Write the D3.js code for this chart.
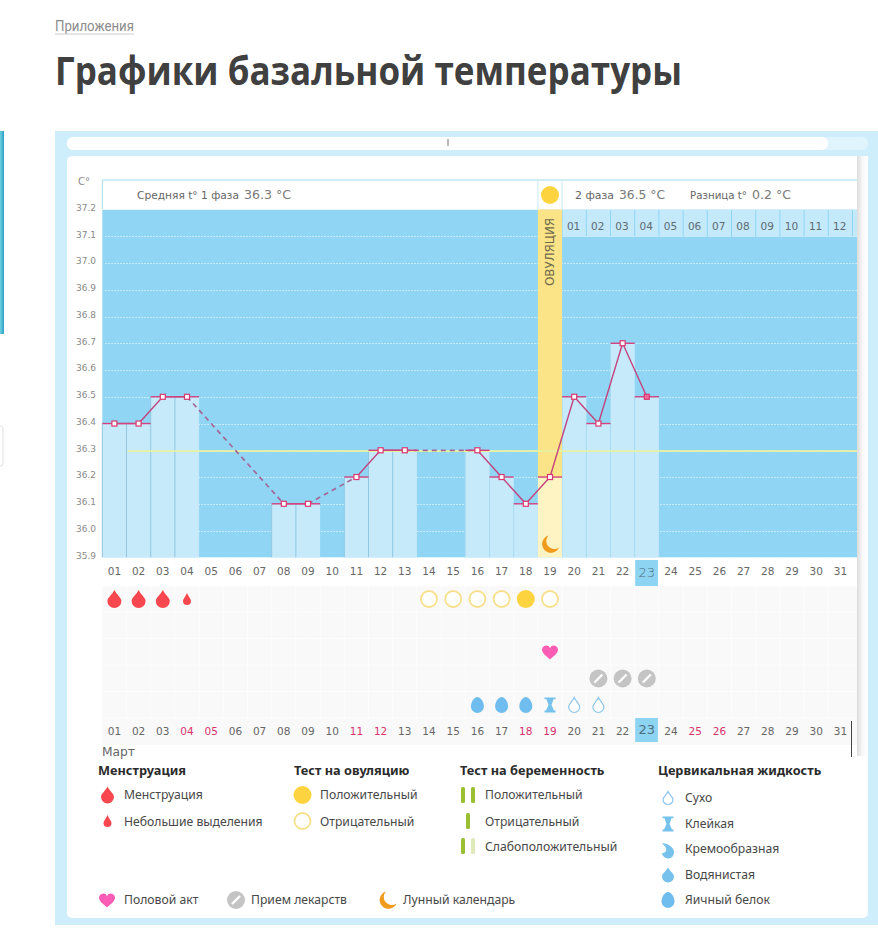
<!doctype html>
<meta charset='utf-8'>
<style>
  body { margin: 0; background: #fff; }
  svg { display: block; }
</style>
<body>
<script src='https://d3js.org/d3.v7.min.js'></script>
<script>

// values
var days = d3.range(1, 32).map(function(d) { return (d < 10 ? '0' : '') + d; });
var tempTicks = [35.9, 36.0, 36.1, 36.2, 36.3, 36.4, 36.5, 36.6, 36.7, 36.8, 36.9, 37.0, 37.1, 37.2];
var tempDays = ['01','02','03','04','08','09','11','12','13','16','17','18','19','20','21','22','23'];
var temps = [36.4,36.4,36.5,36.5,36.1,36.1,36.2,36.3,36.3,36.3,36.2,36.1,36.2,36.5,36.4,36.7,36.5];
var phaseMean = 36.3;
var ovulationDay = '19';
var moonDay = '19';
var today = '23';
var secondPhaseDays = ['01','02','03','04','05','06','07','08','09','10','11','12','13'];
var redDays = ['04','05','11','12','18','19','25','26'];
var bleedBig = ['01','02','03'];
var bleedSmall = ['04'];
var ovuNegative = ['14','15','16','17','19'];
var ovuPositive = ['18'];
var intercourse = ['19'];
var pills = ['21','22','23'];
var fluidEgg = ['16','17','18'];
var fluidSticky = ['19'];
var fluidDry = ['20','21'];

var width = 878, height = 952;

var x = d3.scaleBand().domain(days).range([102.3, 102.3 + 31 * 24.2]);
var y = d3.scaleLinear().domain([35.9, 37.2]).range([557.3, 209.5]);
var cx = function(d) { return x(d) + x.bandwidth() / 2; };

var plotL = 102.3, plotR = 857;
var rows = [599, 625.5, 652, 678.5, 705];
var blue = '#90d6f4', pale = '#c7eafb', pink = '#d8386f';
var sans = "'Noto Sans', sans-serif", veraFont = "'DejaVu Sans', sans-serif";

var svg = d3.select('body').append('svg').attr('width', width).attr('height', height);
var defs = svg.append('defs');

var shade = defs.append('linearGradient').attr('id', 'shade');
shade.append('stop').attr('offset', 0).attr('stop-color', '#dcdcdc');
shade.append('stop').attr('offset', 0.5).attr('stop-color', '#f8f8f8');
shade.append('stop').attr('offset', 1).attr('stop-color', '#fff');
var strip = defs.append('linearGradient').attr('id', 'strip');
strip.append('stop').attr('offset', 0).attr('stop-color', '#6fd0e2');
strip.append('stop').attr('offset', 1).attr('stop-color', '#2f9fc4');

function txt(g, s, px, py, size, color, opts) {
  opts = opts || {};
  var t = g.append('text').attr('x', px).attr('y', py).text(s)
    .attr('font-size', size).attr('fill', color)
    .attr('font-family', opts.font || sans)
    .attr('font-weight', opts.weight || 400)
    .attr('text-anchor', opts.anchor || 'start');
  if (opts.len) t.attr('textLength', opts.len).attr('lengthAdjust', 'spacingAndGlyphs');
  return t;
}

// page heading
txt(svg, 'Приложения', 55, 31, 14, '#8c8c8c', {len: 79, font: "'Roboto', sans-serif"});
svg.append('line').attr('x1', 55).attr('x2', 134).attr('y1', 34).attr('y2', 34).attr('stroke', '#ccc');
txt(svg, 'Графики базальной температуры', 55, 84.5, 39, '#404040', {weight: 700, len: 627, font: "'Open Sans', sans-serif"});

// left edge bits of the page
svg.append('rect').attr('x', 0).attr('y', 131).attr('width', 4).attr('height', 203).attr('fill', 'url(#strip)');
svg.append('rect').attr('x', -6).attr('y', 426).attr('width', 9).attr('height', 40).attr('rx', 3)
  .attr('fill', '#fff').attr('stroke', '#e2e2e2');

// panels
svg.append('rect').attr('x', 55).attr('y', 131).attr('width', 823).attr('height', 794).attr('fill', '#cfeefb');
svg.append('rect').attr('x', 67).attr('y', 137).attr('width', 801).attr('height', 13).attr('rx', 6).attr('fill', '#dff4fc');
svg.append('rect').attr('x', 67).attr('y', 137).attr('width', 761).attr('height', 13).attr('rx', 6).attr('fill', '#fff');
svg.append('line').attr('x1', 448).attr('x2', 448).attr('y1', 139).attr('y2', 146).attr('stroke', '#bbb').attr('stroke-width', 2);
svg.append('rect').attr('x', 67).attr('y', 156).attr('width', 801).attr('height', 762).attr('rx', 5).attr('fill', '#fff');

// plot background + header
var plot = svg.append('g');
plot.append('rect').attr('x', plotL).attr('y', y(37.2)).attr('width', plotR - plotL).attr('height', y(35.9) - y(37.2)).attr('fill', blue);
plot.append('rect').attr('x', plotL).attr('y', 180).attr('width', plotR - plotL).attr('height', y(37.2) - 180)
  .attr('fill', '#fff');
plot.append('line').attr('x1', plotL).attr('x2', plotR).attr('y1', 180).attr('y2', 180).attr('stroke', '#a4dcea');
plot.append('line').attr('x1', plotL).attr('x2', plotL).attr('y1', 180).attr('y2', 209).attr('stroke', '#a4dcea');
plot.append('line').attr('x1', x(ovulationDay)).attr('x2', x(ovulationDay)).attr('y1', 180).attr('y2', 209).attr('stroke', '#c5e8f4');
plot.append('line').attr('x1', x(ovulationDay) + x.bandwidth()).attr('x2', x(ovulationDay) + x.bandwidth()).attr('y1', 180).attr('y2', 209).attr('stroke', '#c5e8f4');

// dotted temperature grid
plot.selectAll('line.grid').data(tempTicks.slice(0, -1)).enter().append('line')
  .attr('class', 'grid')
  .attr('x1', plotL + 3).attr('x2', plotR)
  .attr('y1', function(d) { return Math.round(y(d)) + 0.5; }).attr('y2', function(d) { return Math.round(y(d)) + 0.5; })
  .attr('stroke', '#d9f2fd').attr('stroke-width', 1).attr('stroke-dasharray', '1.5 1.5');

// temperature columns
var tempData = tempDays.map(function(d, i) { return {day: d, t: temps[i]}; });
plot.selectAll('rect.col').data(tempData.filter(function(d) { return d.day !== ovulationDay; })).enter().append('rect')
  .attr('class', 'col')
  .attr('x', function(d) { return x(d.day); })
  .attr('y', function(d) { return y(d.t); })
  .attr('width', x.bandwidth())
  .attr('height', function(d) { return y(35.9) - y(d.t); })
  .attr('fill', pale);
plot.selectAll('line.sep').data(tempData.filter(function(d) { return d.day !== ovulationDay; })).enter().append('line')
  .attr('class', 'sep')
  .attr('x1', function(d) { return x(d.day); })
  .attr('x2', function(d) { return x(d.day); })
  .attr('y1', function(d) { return y(d.t); })
  .attr('y2', y(35.9))
  .attr('stroke', function(d) { return +d.day < 16 ? '#92c7e2' : '#a9dcf2'; });

// ovulation column
var ovuT = temps[tempDays.indexOf(ovulationDay)];
plot.append('rect').attr('x', x(ovulationDay)).attr('y', y(37.2)).attr('width', x.bandwidth()).attr('height', y(ovuT) - y(37.2)).attr('fill', '#fbe387');
plot.append('rect').attr('x', x(ovulationDay)).attr('y', y(ovuT)).attr('width', x.bandwidth()).attr('height', y(35.9) - y(ovuT)).attr('fill', '#fdf3c3');
plot.append('circle').attr('cx', cx(ovulationDay)).attr('cy', 195).attr('r', 9).attr('fill', '#fdd43f');
txt(plot, 'ОВУЛЯЦИЯ', 0, 0, 11.5, '#6f6a4a', {anchor: 'middle', font: veraFont, len: 68})
  .attr('transform', 'translate(' + (cx(ovulationDay) + 4) + ',252) rotate(-90)');

// second phase date cells
var cells = plot.selectAll('g.cell').data(secondPhaseDays).enter().append('g').attr('class', 'cell');
var phaseX = function(d) { return x(ovulationDay) + x.bandwidth() * (+d); };
cells.append('rect')
  .attr('x', function(d) { return phaseX(d) + 0.5; })
  .attr('y', y(37.2))
  .attr('width', function(d) { return Math.min(x.bandwidth() - 1, plotR - phaseX(d) - 0.5); })
  .attr('height', 27.5)
  .attr('fill', '#c3e9fa');
cells.filter(function(d) { return d !== '13'; }).append('text')
  .attr('x', function(d) { return phaseX(d) + 11.5; })
  .attr('y', 230)
  .attr('text-anchor', 'middle').attr('font-size', 10.5).attr('font-family', veraFont).attr('fill', '#5f6b72')
  .text(function(d) { return d; });

// mean line
plot.append('line').attr('x1', x('02') + 1).attr('x2', plotR).attr('y1', y(phaseMean) + 0.8).attr('y2', y(phaseMean) + 0.8)
  .attr('stroke', '#e6f2a0').attr('stroke-width', 1.6);

// temperature line: solid between neighbouring days, dashed over gaps
var lineSegs = d3.pairs(tempData);
plot.selectAll('line.seg').data(lineSegs).enter().append('line')
  .attr('class', 'seg')
  .attr('x1', function(d) { return cx(d[0].day); })
  .attr('y1', function(d) { return y(d[0].t); })
  .attr('x2', function(d) { return cx(d[1].day); })
  .attr('y2', function(d) { return y(d[1].t); })
  .attr('stroke', function(d) { return +d[1].day - +d[0].day > 1 ? '#a2689a' : '#c2457f'; })
  .attr('stroke-width', function(d) { return +d[1].day - +d[0].day > 1 ? 1.7 : 1.4; })
  .attr('stroke-dasharray', function(d) { return +d[1].day - +d[0].day > 1 ? '5 4' : null; });
plot.selectAll('line.top').data(tempData).enter().append('line')
  .attr('class', 'top')
  .attr('x1', function(d) { return x(d.day); })
  .attr('x2', function(d) { return x(d.day) + x.bandwidth(); })
  .attr('y1', function(d) { return y(d.t); })
  .attr('y2', function(d) { return y(d.t); })
  .attr('stroke', '#d0437f').attr('stroke-width', 1.4);
plot.selectAll('rect.pt').data(tempData).enter().append('rect')
  .attr('class', 'pt')
  .attr('x', function(d) { return cx(d.day) - 2.5; })
  .attr('y', function(d) { return y(d.t) - 2.5; })
  .attr('width', 5).attr('height', 5)
  .attr('fill', function(d) { return d.day === today ? '#f06a9a' : '#fff'; })
  .attr('stroke', pink).attr('stroke-width', 1.2);

// y axis
var yAxis = svg.append('g').attr('transform', 'translate(96,-2)')
  .call(d3.axisLeft(y).tickValues(tempTicks).tickSize(0).tickPadding(0).tickFormat(d3.format('.1f')));
yAxis.select('.domain').remove();
yAxis.selectAll('text').attr('font-size', 9).attr('fill', '#8a8a8a').attr('font-family', veraFont);
txt(svg, 'C°', 78, 185, 10, '#8a8a8a', {font: veraFont});

// header texts
txt(svg, 'Средняя t° 1 фаза', 137, 199, 10.5, '#666', {font: veraFont, len: 102});
txt(svg, '36.3 °C', 244, 199, 13, '#7a7a7a', {font: veraFont, len: 47});
txt(svg, '2 фаза', 575, 199, 10.5, '#666', {font: veraFont, len: 39});
txt(svg, '36.5 °C', 619, 199, 13, '#7a7a7a', {font: veraFont, len: 46});
txt(svg, 'Разница t°', 690, 199, 10.5, '#666', {font: veraFont, len: 57});
txt(svg, '0.2 °C', 752, 199, 13, '#7a7a7a', {font: veraFont, len: 39});

// calendar grid
var grid = svg.append('g');
grid.append('rect').attr('x', plotL).attr('y', 586).attr('width', plotR - plotL).attr('height', 159).attr('fill', '#f9f9f9');
grid.selectAll('line.v').data(days).enter().append('line').attr('class', 'v')
  .attr('x1', function(d) { return x(d); }).attr('x2', function(d) { return x(d); })
  .attr('y1', 586).attr('y2', 719).attr('stroke', '#fdfdfd');
grid.selectAll('line.h').data(rows).enter().append('line').attr('class', 'h')
  .attr('x1', plotL).attr('x2', plotR)
  .attr('y1', function(d) { return d + 13; }).attr('y2', function(d) { return d + 13; }).attr('stroke', '#fdfdfd');

// today highlight
[[560, 26], [718, 24]].forEach(function(r) {
  svg.append('rect').attr('x', x(today) + 0.5).attr('y', r[0]).attr('width', x.bandwidth() - 1.5).attr('height', r[1]).attr('fill', '#8dd3f2');
});

// date rows
var axisTop = svg.append('g').attr('transform', 'translate(0,563)')
  .call(d3.axisBottom(x).tickSize(0).tickPadding(5));
var axisBottom = svg.append('g').attr('transform', 'translate(0,723)')
  .call(d3.axisBottom(x).tickSize(0).tickPadding(5));
[axisTop, axisBottom].forEach(function(a) {
  a.select('.domain').remove();
  a.selectAll('text').attr('font-size', 10.5).attr('font-family', veraFont).attr('fill', '#666');
});
axisBottom.selectAll('text').attr('fill', function(d) { return redDays.indexOf(d) > -1 ? '#d6336f' : '#666'; });
axisTop.selectAll('text').filter(function(d) { return d === today; }).attr('font-size', 13).attr('fill', '#4d6f82').attr('font-weight', 300);
axisBottom.selectAll('text').filter(function(d) { return d === today; }).attr('font-size', 13).attr('fill', '#4d6f82').attr('y', 1.5);

txt(svg, 'Март', 102, 756, 13, '#666', {font: veraFont, len: 33});
svg.append('line').attr('x1', 851.5).attr('x2', 851.5).attr('y1', 721).attr('y2', 757).attr('stroke', '#444').attr('stroke-width', 1);

// icon helpers
function dropPath(w, h) {
  // tip on top, round belly below, centred on 0,0
  var r = w / 2, top = -h / 2, by = h / 2 - r;
  return 'M0,' + top + 'C' + (r * 0.3) + ',' + (top + h * 0.25) + ' ' + r + ',' + (by - r * 0.5) + ' ' + r + ',' + by +
    'A' + r + ',' + r + ' 0 1 1 ' + (-r) + ',' + by +
    'C' + (-r) + ',' + (by - r * 0.5) + ' ' + (-r * 0.3) + ',' + (top + h * 0.25) + ' 0,' + top + 'Z';
}
function drop(g, px, py, w, h, fill, stroke) {
  g.append('path').attr('d', dropPath(w, h)).attr('transform', 'translate(' + px + ',' + py + ')')
    .attr('fill', fill).attr('stroke', stroke || 'none').attr('stroke-width', stroke ? 1.2 : 0);
}
function ovuCircle(g, px, py, pos) {
  g.append('circle').attr('cx', px).attr('cy', py).attr('r', pos ? 9 : 8)
    .attr('fill', pos ? '#fdd43f' : '#fff').attr('stroke', pos ? 'none' : '#f6e08c').attr('stroke-width', 1.8);
}
function heart(g, px, py) {
  g.append('path').attr('transform', 'translate(' + px + ',' + py + ')')
    .attr('d', 'M0,7.5C-3,4.5 -8,1.5 -8,-2.5A4.2,4.2 0 0 1 0,-4A4.2,4.2 0 0 1 8,-2.5C8,1.5 3,4.5 0,7.5Z')
    .attr('fill', '#fb5cb4');
}
function pill(g, px, py) {
  g.append('circle').attr('cx', px).attr('cy', py).attr('r', 9).attr('fill', '#c4c4c4');
  g.append('line').attr('x1', px - 4).attr('y1', py + 4).attr('x2', px + 4).attr('y2', py - 4)
    .attr('stroke', '#fff').attr('stroke-width', 2.4);
}
function moon(g, px, py) {
  g.append('path').attr('transform', 'translate(' + px + ',' + py + ')')
    .attr('d', 'M-2,-8.5A8.8,8.8 0 1 0 8.5,3.5A8,8 0 0 1 -2,-8.5Z').attr('fill', '#f09a1e');
}
function sticky(g, px, py) {
  g.append('path').attr('transform', 'translate(' + px + ',' + py + ')')
    .attr('d', 'M-5.5,-7.5H5.5V-5.8H3.5L1.5,0L4,5.5H5.5V7.5H-5.5V5.5H-4L-1.5,0L-3.5,-5.8H-5.5Z')
    .attr('fill', '#76c2ec');
}
function eggWhite(g, px, py) {
  g.append('path').attr('transform', 'translate(' + px + ',' + py + ')')
    .attr('d', 'M0,-8C3.6,-8 6.5,-2.5 6.5,1.5A6.5,6.5 0 0 1 -6.5,1.5C-6.5,-2.5 -3.6,-8 0,-8Z')
    .attr('fill', '#6fbdee');
}

// calendar marks
var marks = svg.append('g');
bleedBig.forEach(function(d) { drop(marks, cx(d), rows[0], 14, 18, '#f9474f'); });
bleedSmall.forEach(function(d) { drop(marks, cx(d), rows[0], 8, 12, '#f9474f'); });
ovuNegative.forEach(function(d) { ovuCircle(marks, cx(d), rows[0], false); });
ovuPositive.forEach(function(d) { ovuCircle(marks, cx(d), rows[0], true); });
intercourse.forEach(function(d) { heart(marks, cx(d), rows[2]); });
pills.forEach(function(d) { pill(marks, cx(d), rows[3]); });
fluidEgg.forEach(function(d) { eggWhite(marks, cx(d), rows[4]); });
fluidSticky.forEach(function(d) { sticky(marks, cx(d), rows[4]); });
fluidDry.forEach(function(d) { drop(marks, cx(d), rows[4], 11, 15, '#fff', '#8cc6ea'); });
moon(marks, cx(moonDay) + 0.5, 544);

// legend
var leg = svg.append('g');
var head = {weight: 700, font: sans};
var headSize = 12.75, itemSize = 12.2, itemColor = '#484848', headColor = '#2b2b2b';
txt(leg, 'Менструация', 98, 775, headSize, headColor, head);
txt(leg, 'Тест на овуляцию', 294, 775, headSize, headColor, head);
txt(leg, 'Тест на беременность', 460, 775, headSize, headColor, head);
txt(leg, 'Цервикальная жидкость', 658, 775, headSize, headColor, head);

drop(leg, 107.5, 795, 13, 17, '#f9474f');
drop(leg, 107.5, 821, 8, 12, '#f9474f');
txt(leg, 'Менструация', 124, 799, itemSize, itemColor);
txt(leg, 'Небольшие выделения', 124, 826, itemSize, itemColor);

ovuCircle(leg, 302.5, 795, true);
ovuCircle(leg, 302.5, 821, false);
txt(leg, 'Положительный', 320, 799, itemSize, itemColor);
txt(leg, 'Отрицательный', 320, 826, itemSize, itemColor);

function stick(px, py, c) {
  leg.append('rect').attr('x', px - 2).attr('y', py - 8).attr('width', 4).attr('height', 16).attr('rx', 1.5).attr('fill', c);
}
stick(463, 795, '#9abf33'); stick(473, 795, '#9abf33');
stick(468, 821, '#9abf33');
stick(463, 846, '#9abf33'); stick(473, 846, '#dfe9ba');
txt(leg, 'Положительный', 485, 799, itemSize, itemColor);
txt(leg, 'Отрицательный', 485, 826, itemSize, itemColor);
txt(leg, 'Слабоположительный', 485, 851, itemSize, itemColor);

drop(leg, 668, 798, 10, 13, '#fff', '#8cc6ea');
sticky(leg, 668, 824);
// creamy: drop with a bite taken out of the top left
leg.append('path').attr('transform', 'translate(668,850)')
  .attr('d', 'M-6,-7C-1,-7 6,-3 6,2A6,6 0 0 1 -6,3C-3,3 -1,1 -2,-2C-3,-4 -5,-6 -6,-7Z').attr('fill', '#76c2ec');
drop(leg, 668, 875, 12, 15, '#76c2ec');
eggWhite(leg, 668, 900);
txt(leg, 'Сухо', 685, 802, itemSize, itemColor);
txt(leg, 'Клейкая', 685, 828, itemSize, itemColor);
txt(leg, 'Кремообразная', 685, 853, itemSize, itemColor);
txt(leg, 'Водянистая', 685, 879, itemSize, itemColor);
txt(leg, 'Яичный белок', 685, 904, itemSize, itemColor);

heart(leg, 107, 900);
txt(leg, 'Половой акт', 124, 904, itemSize, itemColor);
pill(leg, 236, 900);
txt(leg, 'Прием лекарств', 251, 904, itemSize, itemColor);
moon(leg, 388, 900);
txt(leg, 'Лунный календарь', 403, 904, itemSize, itemColor);

// scroll shadow on the right of the plot
svg.append('rect').attr('x', plotR).attr('y', 156).attr('width', 11).attr('height', 600).attr('fill', 'url(#shade)');

</script>
</body>
